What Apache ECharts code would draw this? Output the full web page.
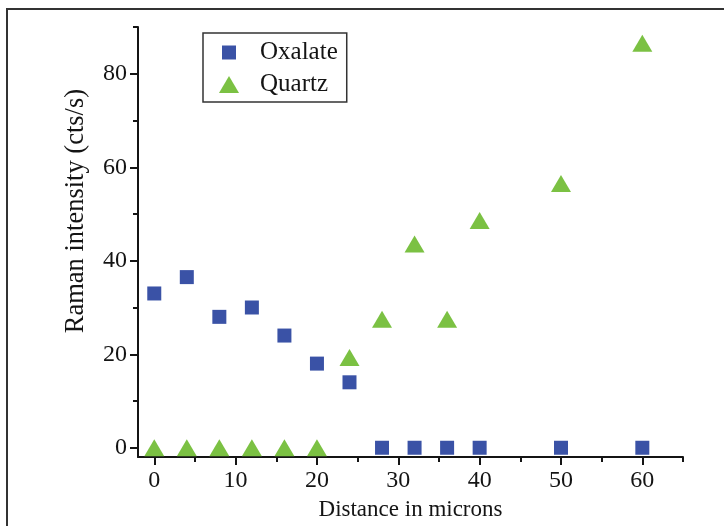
<!DOCTYPE html>
<html lang="en">
<head>
    <meta charset="UTF-8">
    <title>Raman intensity</title>
    <script src="https://cdn.jsdelivr.net/npm/echarts@6/dist/echarts.min.js"></script>
    <style>
        html, body { margin: 0; padding: 0; background: #fff; }
    </style>
</head>
<body>
    <div id="main" style="width:724px;height:526px;"></div>

    <script>
        // 数据
        const distance = [0, 4, 8, 12, 16, 20, 24, 28, 32, 36, 40, 50, 60];
        const oxalate = [33, 36.5, 28, 30, 24, 18, 14, 0, 0, 0, 0, 0, 0];
        const quartz = [0, 0, 0, 0, 0, 0, 19.3, 27.5, 43.6, 27.5, 48.6, 56.5, 86.5];

        // 刻度
        const xLabels = [0, 10, 20, 30, 40, 50, 60];
        const xMinorTicks = [5, 15, 25, 35, 45, 55, 65];
        const yLabels = [0, 20, 40, 60, 80];
        const yMinorTicks = [10, 30, 50, 70, 90];

        const pairs = function (xs, ys) {
            return xs.map(function (x, i) { return [x, ys[i]]; });
        };

        const font = 'Liberation Serif';
        const ink = '#141414';

        const optionMap = {
            animation: false,
            backgroundColor: '#fff',
            grid: { left: 138, right: 41, top: 27, bottom: 59, containLabel: false },
            legend: {
                orient: 'vertical',
                left: 203,
                top: 33,
                padding: [7, 9, 5, 16],
                itemGap: 7,
                itemWidth: 20,
                itemHeight: 17,
                borderColor: '#333',
                borderWidth: 1.5,
                textStyle: { fontFamily: font, fontSize: 25, color: ink, padding: [0, 0, 0, 16] },
                data: [
                    { name: 'Oxalate', icon: 'path://M0,0M20,17M3,1.5h14v14h-14z' },
                    { name: 'Quartz', icon: 'triangle' }
                ]
            },
            xAxis: [
                {
                    type: 'value',
                    min: -2,
                    max: 65,
                    name: 'Distance in microns',
                    nameLocation: 'middle',
                    nameGap: 38,
                    nameTextStyle: { fontFamily: font, fontSize: 23, color: ink },
                    axisLine: { show: true, onZero: false, lineStyle: { color: ink, width: 2 } },
                    axisTick: { show: true, inside: false, length: 5, customValues: xMinorTicks, lineStyle: { color: ink, width: 2 } },
                    axisLabel: { fontFamily: font, fontSize: 24, color: ink, margin: 12, customValues: xLabels },
                    splitLine: { show: false }
                },
                {
                    type: 'value',
                    position: 'bottom',
                    offset: 0,
                    min: -2,
                    max: 65,
                    axisLine: { show: false, onZero: false },
                    axisTick: { show: true, inside: false, length: 8, customValues: xLabels, lineStyle: { color: ink, width: 2 } },
                    axisLabel: { show: false },
                    splitLine: { show: false }
                }
            ],
            yAxis: [
                {
                    type: 'value',
                    min: -2,
                    max: 90,
                    name: 'Raman intensity (cts/s)',
                    nameLocation: 'middle',
                    nameGap: 48,
                    nameTextStyle: { fontFamily: font, fontSize: 26.5, color: ink, padding: [0, 0, 0, 62] },
                    axisLine: { show: true, onZero: false, lineStyle: { color: ink, width: 2 } },
                    axisTick: { show: true, inside: false, length: 5, customValues: yMinorTicks, lineStyle: { color: ink, width: 2 } },
                    axisLabel: { fontFamily: font, fontSize: 24, color: ink, margin: 11, customValues: yLabels },
                    splitLine: { show: false }
                },
                {
                    type: 'value',
                    position: 'left',
                    offset: 0,
                    min: -2,
                    max: 90,
                    axisLine: { show: false, onZero: false },
                    axisTick: { show: true, inside: false, length: 8, customValues: yLabels, lineStyle: { color: ink, width: 2 } },
                    axisLabel: { show: false },
                    splitLine: { show: false }
                }
            ],
            graphic: [
                {
                    type: 'polyline',
                    shape: { points: [[7, 526], [7, 9], [724, 9]] },
                    style: { stroke: '#333', lineWidth: 2, fill: null }
                }
            ],
            series: [
                {
                    name: 'Oxalate',
                    type: 'scatter',
                    symbol: 'rect',
                    symbolSize: 14,
                    itemStyle: { color: '#3a52a6', opacity: 1 },
                    data: pairs(distance, oxalate)
                },
                {
                    name: 'Quartz',
                    type: 'scatter',
                    symbol: 'triangle',
                    symbolSize: [20, 17],
                    itemStyle: { color: '#7bc143', opacity: 1 },
                    data: pairs(distance, quartz)
                }
            ]
        };

        var myChart = echarts.init(document.getElementById('main'));
        myChart.setOption(optionMap);
    </script>
</body>
</html>
